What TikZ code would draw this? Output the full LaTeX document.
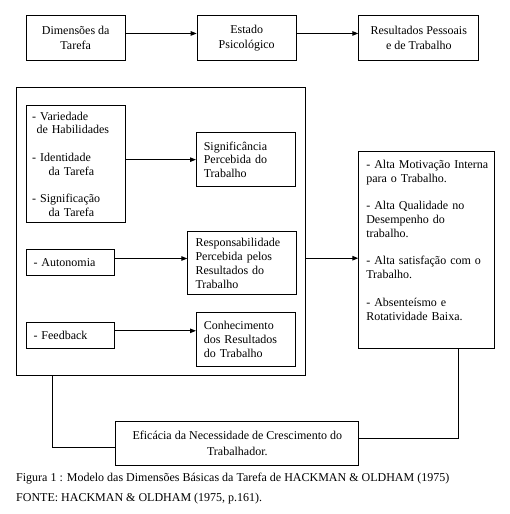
\documentclass[tikz,border=0pt]{standalone}
\usepackage{fontspec}
\setmainfont{Liberation Serif}
\usetikzlibrary{arrows.meta}
\begin{document}
\begin{tikzpicture}[x=1pt,y=-1pt,
  every node/.style={font=\fontsize{12}{13.8}\selectfont},
  cbox/.style={draw, line width=1pt, anchor=north west, inner xsep=2pt, inner ysep=0pt, align=center,
    font=\fontsize{12}{14.8}\selectfont},
  lbox/.style={draw, line width=1pt, anchor=north west, inner ysep=0pt, align=left},
  framebox/.style={draw, line width=1pt, anchor=north west, inner sep=0pt},
  conn/.style={line width=1pt},
  arr/.style={line width=1pt, -{Triangle[length=6pt,width=4.5pt]}},
  captxt/.style={anchor=base west, inner sep=0pt, font=\fontsize{12}{14}\selectfont}]
\useasboundingbox (0,0) rectangle (509,514);
% top row
\node[cbox, minimum width=99pt, minimum height=45.5pt] (b1) at (25.7,14.7) {Dimensões da\\Tarefa};
\node[cbox, minimum width=99pt, minimum height=45.5pt] (b2) at (196.7,14.7) {Estado\\Psicológico};
\node[cbox, minimum width=120pt, minimum height=45.5pt] (b3) at (358.3,14.7) {Resultados Pessoais\\e de Trabalho};
\draw[arr] ([yshift=4.5pt]b1.east) -- ([yshift=4.5pt]b2.west);
\draw[arr] ([yshift=4.5pt]b2.east) -- ([yshift=4.5pt]b3.west);
% frame
\node[framebox, minimum width=288.5pt, minimum height=288.3pt] (fr) at (16,86.7) {};
% left boxes
\node[lbox, inner xsep=6pt, text width=87pt, minimum height=117pt] (dims) at (25.7,105.3)
 {- Variedade\\\hspace*{4.3pt}de Habilidades\\[13.8pt]- Identidade\\\hspace*{16.3pt}da Tarefa\\[13.8pt]- Significação\\\hspace*{16.3pt}da Tarefa};
\node[lbox, inner xsep=7.3pt, text width=84.4pt, minimum height=53.7pt] (sig) at (196,132.3)
 {Significância\\Percebida do\\Trabalho};
\node[lbox, inner xsep=7.3pt, text width=74pt, minimum height=25.4pt] (auto) at (25.7,249.3)
 {- Autonomia};
\node[lbox, inner xsep=7.7pt, text width=93pt, minimum height=63pt] (resp) at (187.3,231.2)
 {Responsabilidade\\Percebida pelos\\Resultados do\\Trabalho};
\node[lbox, inner xsep=7.3pt, text width=74pt, minimum height=26.6pt] (feed) at (25.7,321.7)
 {- Feedback};
\node[lbox, inner xsep=7.3pt, text width=84.4pt, minimum height=53.7pt] (conh) at (196,312.3)
 {Conhecimento\\dos Resultados\\do Trabalho};
\draw[arr] (dims.east |- sig.west) -- (sig.west);
\draw[arr] ([yshift=4pt]auto.east) -- ([yshift=4pt]auto.east -| resp.west);
\draw[arr] ([yshift=4.7pt]feed.east) -- ([yshift=4.7pt]feed.east -| conh.west);
% right box
\node[lbox, inner xsep=7.5pt, text width=120.2pt, minimum height=197.8pt] (res) at (358.3,150.5)
 {\mbox{- Alta Motivação Interna}\\para o Trabalho.\\[13.8pt]- Alta Qualidade no\\Desempenho do\\trabalho.\\[13.8pt]\mbox{- Alta satisfação com o}\\Trabalho.\\[13.8pt]- Absenteísmo e\\Rotatividade Baixa.\\[6pt]\mbox{}};
\draw[arr] ([yshift=-8.3pt]res.west -| fr.east) -- ([yshift=-8.3pt]res.west);
% bottom box
\node[cbox, minimum width=243pt, minimum height=44.8pt, font=\fontsize{12}{15.3}\selectfont] (efi) at (115.3,420.5)
 {Eficácia da Necessidade de Crescimento do\\Trabalhador.};
\draw[conn] ([xshift=36.3pt]fr.south west) |- ([yshift=-4.4pt]efi.west);
\draw[conn] ([xshift=-36.2pt]res.south east) |- ([yshift=4.6pt]efi.east);
% caption
\node[captxt] (cap1) at (16,481) {Figura 1 : Modelo das Dimensões Básicas da Tarefa de HACKMAN \& OLDHAM (1975)};
\node[captxt] (cap2) at (16,501) {FONTE: HACKMAN \& OLDHAM (1975, p.161).};
\end{tikzpicture}
\end{document}
